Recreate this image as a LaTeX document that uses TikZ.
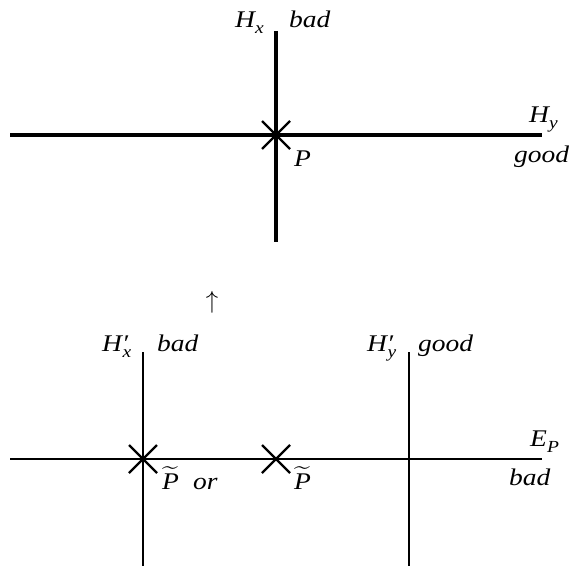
\documentclass[tikz,border=0pt]{standalone}
\usepackage{amsmath}
\usepackage{fontspec}
\setmainfont{Liberation Serif}
\usetikzlibrary{calc}
\newcommand{\lbsub}[1]{\raisebox{-6bp}{\fontsize{17}{19}\selectfont\itshape #1}}
\newcommand{\lbtil}{$\widetilde{\hbox{\itshape P}}$}
\newcommand{\T}[1]{\scalebox{1.15}[1]{#1}}
\tikzset{
  thick line/.style={line width=3.2bp},
  thin line/.style={line width=2.2bp},
  lab/.style={anchor=base west, inner sep=0pt, font=\fontsize{24}{27}\selectfont\itshape},
}
\begin{document}
\begin{tikzpicture}[x=1bp,y=-1bp]
\useasboundingbox (0,0) rectangle (569,566);
% top
\coordinate (tl) at (10,135);
\coordinate (tr) at (542,135);
\coordinate (tt) at (276,31);
\coordinate (tb) at (276,242);
\coordinate (P) at (276,135);
\draw[thick line] (tl) -- (tr);
\draw[thick line] (tt) -- (tb);
\draw[thin line] ($(P)+(-14,-14)$) -- ($(P)+(14,14)$);
\draw[thin line] ($(P)+(-14,14)$) -- ($(P)+(14,-14)$);
\node[lab] (hx) at (235,28) {\T{H\lbsub{x}}};
\node[lab] (hxb) at (289,28) {\T{bad}};
\node[lab] (pl) at (294,167) {\T{P}};
\node[lab] (hy) at (529,123) {\T{H\lbsub{y}}};
\node[lab] (hyg) at (514,163) {\T{good}};
% arrow
\node[anchor=center, inner sep=0pt, font=\fontsize{30}{32}\selectfont] (arr) at (212,302) {$\uparrow$};
% bottom
\coordinate (bl) at (10,459);
\coordinate (br) at (542,459);
\coordinate (v1t) at (143,352);
\coordinate (v1b) at (143,566);
\coordinate (v2t) at (409,352);
\coordinate (v2b) at (409,566);
\coordinate (Q1) at (143,459);
\coordinate (Q2) at (276,459);
\draw[thin line] (bl) -- (br);
\draw[thin line] (v1t) -- (v1b);
\draw[thin line] (v2t) -- (v2b);
\foreach \q in {Q1,Q2}{
  \draw[thin line] ($(\q)+(-14,-14)$) -- ($(\q)+(14,14)$);
  \draw[thin line] ($(\q)+(-14,14)$) -- ($(\q)+(14,-14)$);
}
\node[lab] (hxp) at (102,351) {\T{H′\hspace{-0.2em}\lbsub{x}}};
\node[lab] (hxpb) at (157,351) {\T{bad}};
\node[lab] (hyp) at (367,351) {\T{H′\hspace{-0.2em}\lbsub{y}}};
\node[lab] (hypg) at (418,351) {\T{good}};
\node[lab] (ep) at (530,446) {\T{E\lbsub{P}}};
\node[lab] (epb) at (509,485) {\T{bad}};
\node[lab] (pt1) at (162,489) {\T{\lbtil}};
\node[lab] (or) at (193,489) {\T{or}};
\node[lab] (pt2) at (294,489) {\T{\lbtil}};
\end{tikzpicture}
\end{document}
